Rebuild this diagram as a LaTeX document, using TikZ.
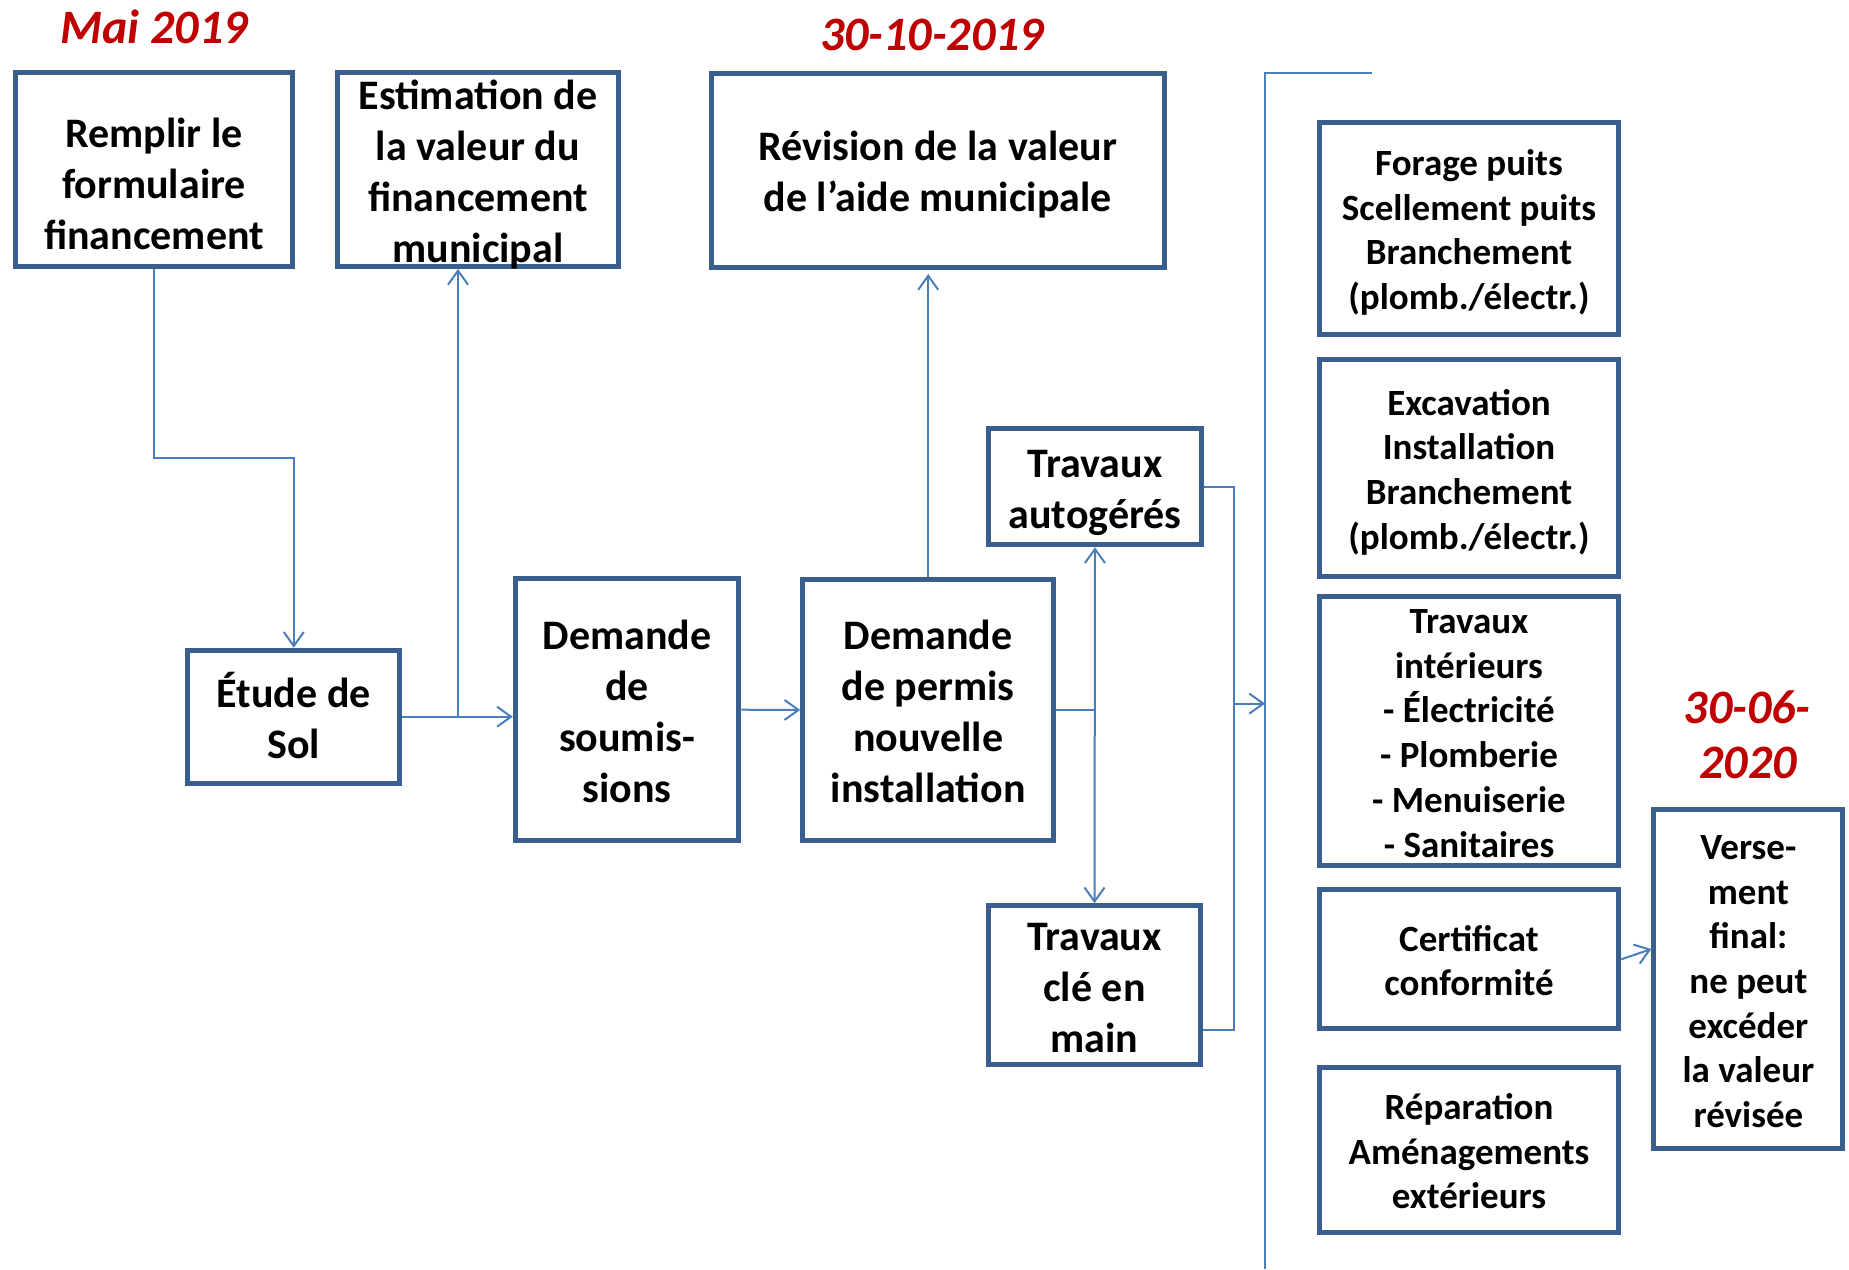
\documentclass[tikz,border=0pt]{standalone}
\usepackage{fontspec}
\setmainfont{Carlito}
\usetikzlibrary{arrows.meta,calc}
\definecolor{boxblue}{HTML}{3A5F8F}
\definecolor{lineblue}{HTML}{4A7EBB}
\definecolor{datered}{HTML}{C00000}
\newcommand\tst{\rule{0pt}{43pt}}
\newcommand\bst{\rule[-11pt]{0pt}{11pt}}
\newcommand\tss{\rule{0pt}{37pt}}
\newcommand\bss{\rule[-8.5pt]{0pt}{8.5pt}}
\tikzset{
  box/.style={draw=boxblue, line width=5pt, fill=white, inner sep=0pt, align=center,
    font=\bfseries\fontsize{42}{51}\selectfont},
  sbox/.style={box, font=\bfseries\fontsize{37}{44.7}\selectfont},
  conn/.style={draw=lineblue, line width=2pt},
  tip/.style={-{Straight Barb[length=14pt,width=20pt]}},
  dtip/.style={{Straight Barb[length=14pt,width=20pt]}-{Straight Barb[length=14pt,width=20pt]}},
  datelbl/.style={text=datered, font=\bfseries\itshape\fontsize{48}{56}\selectfont, anchor=base, inner sep=0pt},
}
\begin{document}
\begin{tikzpicture}[x=1pt,y=-1pt]
\useasboundingbox (0,0) rectangle (1849,1269);
% dates
\node[datelbl] (d1) at (154,43) {Mai 2019};
\node[datelbl] (d2) at (932,50.5) {30-10-2019};
\node[datelbl] (d3) at (1747,723) {30-06-};
\node[datelbl] (d4) at (1748,778) {2020};
% boxes
\node[box, minimum width=277pt, minimum height=193.5pt] (remplir) at (154,169.7)
  {\rule{0pt}{68pt}Remplir le\\formulaire\\financement\bst};
\node[box, minimum width=281.5pt, minimum height=193.5pt, inner ysep=-8pt] (estim) at (478,169.7)
  {\tst Estimation de\\la valeur du\\financement\\municipal\bst};
\node[box, minimum width=453pt, minimum height=194.5pt] (revision) at (937.7,170.3)
  {\tst Révision de la valeur\\de l’aide municipale\bst};
\node[box, minimum width=212pt, minimum height=133.5pt] (etude) at (293.8,717)
  {\tst Étude de\\Sol\bst};
\node[box, minimum width=223.5pt, minimum height=261.5pt] (soum) at (627,709.7)
  {\tst Demande\\de\\soumis-\\sions\bst};
\node[box, minimum width=251pt, minimum height=261.5pt] (permis) at (928.2,710)
  {\tst Demande\\de permis\\nouvelle\\installation\bst};
\node[box, minimum width=213.5pt, minimum height=116.5pt] (autog) at (1095,486.5)
  {\tst Travaux\\autogérés\bst};
\node[box, minimum width=212.5pt, minimum height=159pt] (cle) at (1094.5,985.2)
  {\tst Travaux\\clé en\\main\bst};
\node[sbox, minimum width=299.5pt, minimum height=212pt] (forage) at (1469,228.3)
  {\tss Forage puits\\Scellement puits\\Branchement\\(plomb./électr.)\bss};
\node[sbox, minimum width=299.5pt, minimum height=217pt] (excav) at (1469,467.8)
  {\tss Excavation\\Installation\\Branchement\\(plomb./électr.)\bss};
\node[sbox, minimum width=299.5pt, minimum height=269.5pt, inner ysep=-3pt] (interieur) at (1469,731)
  {\tss Travaux\\intérieurs\\- Électricité\\- Plomberie\\- Menuiserie\\- Sanitaires\bss};
\node[sbox, minimum width=299.5pt, minimum height=139pt] (certif) at (1469,959.3)
  {\tss Certificat\\conformité\bss};
\node[sbox, minimum width=299.5pt, minimum height=164.7pt] (repar) at (1469,1150)
  {\tss Réparation\\Aménagements\\extérieurs\bss};
\node[sbox, minimum width=189pt, minimum height=339pt] (vers) at (1748.4,979.3)
  {\tss Verse-\\ment\\final:\\ne peut\\excéder\\la valeur\\révisée\bss};
% helper coordinates
\coordinate (k1) at (154,458);
\coordinate (j1) at (458,716.7);
\coordinate (c1) at (1234,1029.5);
\coordinate (c2) at (1234,703.6);
\coordinate (bigtop) at (1371.8,73.3);
\coordinate (bigcorner) at (1265,73.3);
\coordinate (bigbot) at (1265,1269);
% connectors
\draw[conn,tip] (remplir.south) -- (k1) -| (etude.north);
\draw[conn,tip] (etude.east |- j1) -- (j1 -| soum.west);
\draw[conn,tip] (j1) -- (j1 |- estim.south);
\draw[conn,tip] (soum.east) -- (permis.west);
\draw[conn,tip,shorten >=4pt] (permis.north) -- (permis.north |- revision.south);
\draw[conn] (permis.east) -- (permis.east -| autog.south);
\draw[conn,dtip] (autog.south) -- (cle.north);
\draw[conn] (autog.east) -| (c1) -- (c1 -| cle.east);
\draw[conn] (bigtop) -- (bigcorner) -- (bigbot);
\draw[conn,tip] (c2) -- (c2 -| bigcorner);
\draw[conn,tip] (certif.east) -- ([yshift=30.3pt]vers.west);
\end{tikzpicture}
\end{document}
